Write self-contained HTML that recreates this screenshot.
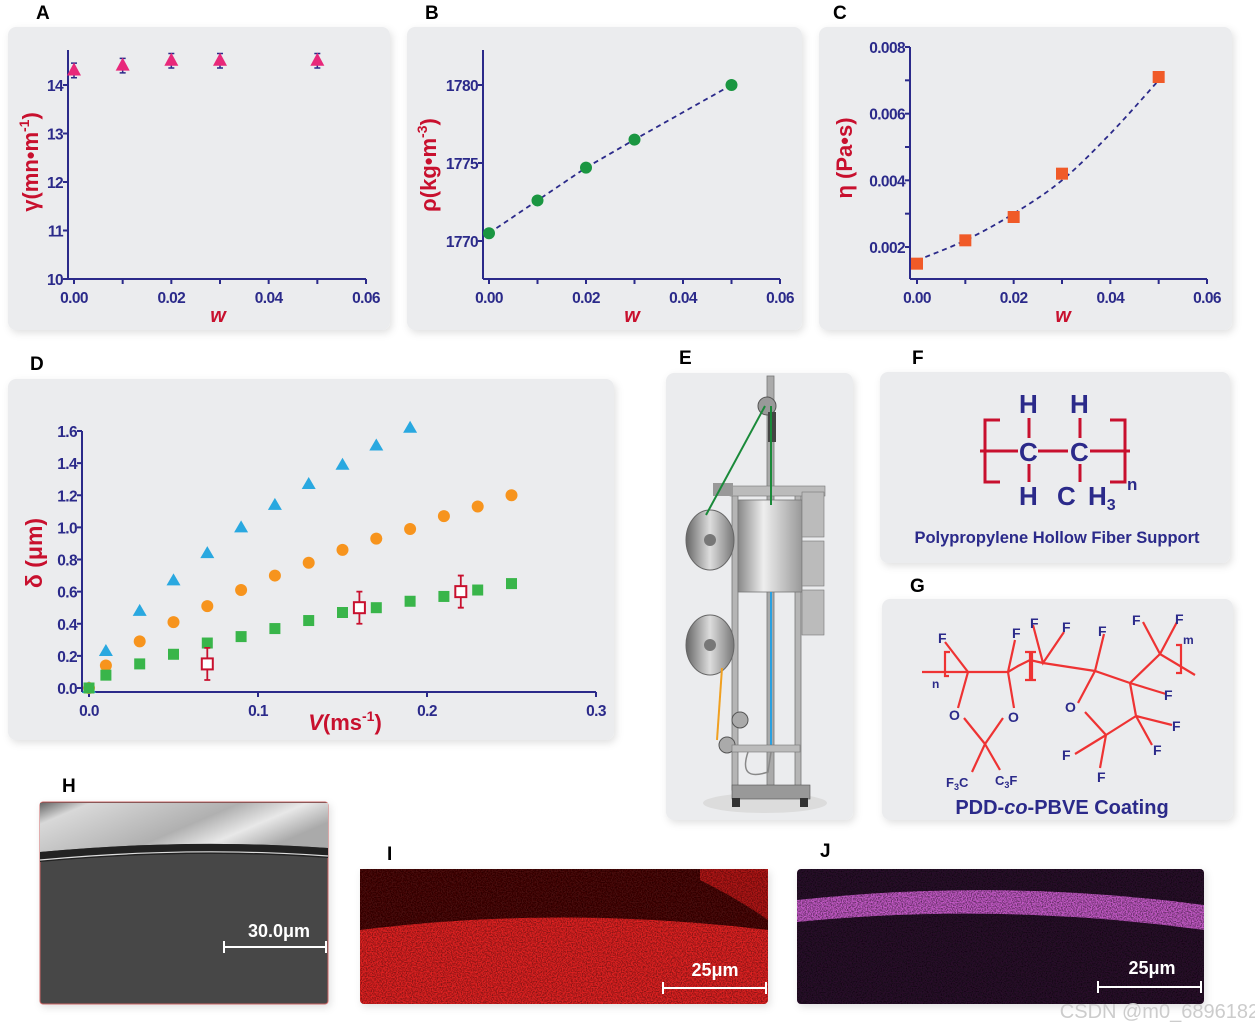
<!DOCTYPE html>
<html><head><meta charset="utf-8"><style>
html,body{margin:0;padding:0;background:#fff;}
svg{display:block;font-family:"Liberation Sans",sans-serif;}
.tk{font-weight:bold;fill:#2b2a8a;font-size:15.5px;letter-spacing:-0.6px;}
.lbl{font-weight:bold;fill:#c8102e;}
.pl{font-weight:bold;font-size:19px;fill:#000;}
</style></head><body>
<svg id="fig" width="1255" height="1033" viewBox="0 0 1255 1033">
<defs>
<filter id="sh" x="-10%" y="-10%" width="125%" height="125%"><feDropShadow dx="2" dy="3" stdDeviation="4" flood-color="#000" flood-opacity="0.12"/></filter>
<filter id="speck" x="0" y="0" width="100%" height="100%"><feTurbulence type="fractalNoise" baseFrequency="0.8" numOctaves="2" seed="3"/><feColorMatrix values="0 0 0 0 0  0 0 0 0 0  0 0 0 0 0  0 0 0 -2.5 1.6"/><feComposite in2="SourceGraphic" operator="in"/></filter>
<linearGradient id="drum" x1="0" y1="0" x2="1" y2="0"><stop offset="0" stop-color="#666"/><stop offset="0.5" stop-color="#ddd"/><stop offset="1" stop-color="#777"/></linearGradient>
<linearGradient id="box" x1="0" y1="0" x2="1" y2="0"><stop offset="0" stop-color="#888"/><stop offset="0.4" stop-color="#eee"/><stop offset="1" stop-color="#999"/></linearGradient>
<linearGradient id="semTop" x1="0" y1="0" x2="1" y2="0.4"><stop offset="0" stop-color="#666"/><stop offset="0.15" stop-color="#d8d8d8"/><stop offset="0.6" stop-color="#b0b0b0"/><stop offset="0.8" stop-color="#e8e8e8"/><stop offset="1" stop-color="#aaa"/></linearGradient>
</defs>

<rect x="8" y="27" width="382" height="303" rx="8" fill="#ebecee" filter="url(#sh)"/>
<rect x="407" y="27" width="395" height="303" rx="8" fill="#ebecee" filter="url(#sh)"/>
<rect x="819" y="27" width="413" height="303" rx="8" fill="#ebecee" filter="url(#sh)"/>
<rect x="8" y="379" width="606" height="361" rx="8" fill="#ebecee" filter="url(#sh)"/>
<rect x="666" y="373" width="187" height="447" rx="8" fill="#ebecee" filter="url(#sh)"/>
<rect x="880" y="372" width="350" height="191" rx="8" fill="#ebecee" filter="url(#sh)"/>
<rect x="882" y="599" width="351" height="221" rx="8" fill="#ebecee" filter="url(#sh)"/>

<text class="pl" x="36" y="19">A</text>
<text class="pl" x="425" y="19">B</text>
<text class="pl" x="833" y="19">C</text>
<text class="pl" x="30" y="370">D</text>
<text class="pl" x="679" y="364">E</text>
<text class="pl" x="912" y="364">F</text>
<text class="pl" x="910" y="592">G</text>
<text class="pl" x="62" y="792">H</text>
<text class="pl" x="387" y="860">I</text>
<text class="pl" x="820" y="857">J</text>

<g id="charts"></g>

<g>
<ellipse cx="765" cy="803" rx="62" ry="10" fill="#dcdcdc"/>
<rect x="767" y="376" width="7" height="420" fill="#aaa" stroke="#777" stroke-width="0.8"/>
<rect x="732" y="490" width="6" height="300" fill="#b5b5b5" stroke="#777" stroke-width="0.8"/>
<rect x="795" y="490" width="6" height="300" fill="#b5b5b5" stroke="#777" stroke-width="0.8"/>
<rect x="730" y="486" width="95" height="10" fill="#bbb" stroke="#777" stroke-width="0.6"/>
<rect x="738" y="500" width="64" height="92" fill="url(#box)" stroke="#777" stroke-width="0.8"/>
<rect x="802" y="492" width="22" height="45" fill="#bbb" stroke="#777" stroke-width="0.6"/>
<rect x="802" y="541" width="22" height="45" fill="#bbb" stroke="#777" stroke-width="0.6"/>
<rect x="802" y="590" width="22" height="45" fill="#bbb" stroke="#777" stroke-width="0.6"/>
<rect x="713" y="483" width="20" height="13" fill="#999"/>
<ellipse cx="710" cy="540" rx="24" ry="30" fill="url(#drum)" stroke="#666"/>
<ellipse cx="710" cy="645" rx="24" ry="30" fill="url(#drum)" stroke="#666"/>
<circle cx="710" cy="540" r="6" fill="#777"/><circle cx="710" cy="645" r="6" fill="#777"/>
<circle cx="767" cy="406" r="9" fill="#999" stroke="#555"/>
<rect x="768" y="412" width="8" height="30" fill="#444"/>
<line x1="765" y1="406" x2="706" y2="515" stroke="#1a8a3a" stroke-width="2"/>
<line x1="771" y1="406" x2="771" y2="505" stroke="#1a8a3a" stroke-width="2"/>
<line x1="771" y1="592" x2="771" y2="750" stroke="#2aa0e0" stroke-width="2"/>
<line x1="722" y1="668" x2="717" y2="740" stroke="#f0a020" stroke-width="2"/>
<circle cx="740" cy="720" r="8" fill="#aaa" stroke="#555"/>
<circle cx="727" cy="745" r="8" fill="#aaa" stroke="#555"/>
<rect x="732" y="745" width="68" height="7" fill="#bbb" stroke="#777" stroke-width="0.6"/>
<path d="M748 752 q-10 30 20 20 l3 -20" fill="none" stroke="#888" stroke-width="1.5"/>
<rect x="732" y="785" width="78" height="14" fill="#999" stroke="#555" stroke-width="0.6"/>
<rect x="732" y="798" width="8" height="9" fill="#333"/><rect x="800" y="798" width="8" height="9" fill="#333"/>
</g>

<g font-weight="bold" fill="#2b2a8a" font-size="26">
<path d="M1000 420 h-15 v62 h15 M1110 420 h15 v62 h-15" fill="none" stroke="#c8102e" stroke-width="3"/>
<line x1="980" y1="451" x2="1018" y2="451" stroke="#c8102e" stroke-width="3"/>
<line x1="1038" y1="451" x2="1068" y2="451" stroke="#c8102e" stroke-width="3"/>
<line x1="1090" y1="451" x2="1130" y2="451" stroke="#c8102e" stroke-width="3"/>
<line x1="1029" y1="418" x2="1029" y2="438" stroke="#c8102e" stroke-width="3"/>
<line x1="1080" y1="418" x2="1080" y2="438" stroke="#c8102e" stroke-width="3"/>
<line x1="1029" y1="464" x2="1029" y2="482" stroke="#c8102e" stroke-width="3"/>
<line x1="1080" y1="464" x2="1080" y2="482" stroke="#c8102e" stroke-width="3"/>
<text x="1019" y="413">H</text><text x="1070" y="413">H</text>
<text x="1019" y="461">C</text><text x="1070" y="461">C</text>
<text x="1019" y="505">H</text><text x="1057" y="505">C</text><text x="1088" y="505">H<tspan font-size="16" dy="5">3</tspan></text>
<text x="1127" y="490" font-size="17">n</text>
<text x="1057" y="543" font-size="16.5" text-anchor="middle">Polypropylene Hollow Fiber Support</text>
</g>

<g font-weight="bold" fill="#2b2a8a" font-size="14">
<g stroke="#ee3333" stroke-width="2.2" fill="none">
<path d="M922 672 L968 672 L1008 672 L1018 666 L1030 660 L1043 663 L1095 671 L1130 683 L1160 654 L1195 675"/>
<path d="M945 642 L968 672 L958 708 M1008 672 L1014 708 M964 718 L985 744 L1003 718 M985 744 L972 772 M985 744 L1000 770"/>
<path d="M1015 640 L1008 672 M1033 625 L1043 663 L1064 632 M1104 634 L1095 671 L1078 703 M1085 712 L1106 735 L1100 768 M1106 735 L1075 754 M1106 735 L1136 716 L1130 683 M1136 716 L1172 725 M1136 716 L1152 745 M1130 683 L1166 694 M1160 654 L1143 622 M1160 654 L1177 622"/>
<path d="M950 652 h-5 v24 h4 M1025 652 h5 v28 h-5 M1036 652 h-4 v28 h4 M1176 645 h5 v28 h-5"/>
</g>
<text x="938" y="643">F</text><text x="1012" y="638">F</text><text x="1030" y="628">F</text><text x="1062" y="632">F</text><text x="1098" y="636">F</text>
<text x="1132" y="625">F</text><text x="1175" y="624">F</text><text x="1183" y="644" font-size="12">m</text>
<text x="932" y="688" font-size="12">n</text>
<text x="949" y="720">O</text><text x="1008" y="722">O</text><text x="1065" y="712">O</text>
<text x="1164" y="700">F</text><text x="1172" y="731">F</text><text x="1153" y="755">F</text><text x="1062" y="760">F</text><text x="1097" y="782">F</text>
<text x="946" y="787" font-size="13">F<tspan font-size="9" dy="3">3</tspan><tspan dy="-3">C</tspan></text>
<text x="995" y="785" font-size="13">C<tspan font-size="9" dy="3">3</tspan><tspan dy="-3">F</tspan></text>
<text x="1062" y="814" font-size="20" text-anchor="middle">PDD-<tspan font-style="italic">co</tspan>-PBVE Coating</text>
</g>

<g filter="url(#sh)">
<rect x="40" y="802" width="288" height="202" rx="3" fill="#464646" stroke="#c66" stroke-width="1"/>
<path d="M40 803 H328 V848 Q190 838 40 852 Z" fill="url(#semTop)"/>
<path d="M40 852 Q190 838 328 848 V858 Q190 848 40 862 Z" fill="#222"/>
<path d="M40 860 Q190 846 328 856" stroke="#ddd" stroke-width="1.2" fill="none"/>
</g>
<g>
<text x="279" y="937" font-size="18" font-weight="bold" fill="#fff" text-anchor="middle">30.0μm</text>
<path d="M224 947 H326 M224 941 V953 M326 941 V953" stroke="#fff" stroke-width="2"/>
</g>

<g filter="url(#sh)">
<rect x="360" y="869" width="408" height="135" rx="4" fill="#e02222"/>
<path d="M360 869 H768 V930 Q560 905 360 930 Z" fill="#4a0808"/>
<path d="M700 869 H768 V920 Q740 900 700 880 Z" fill="#b01515"/>
<rect x="360" y="869" width="408" height="135" rx="4" fill="#000" filter="url(#speck)" opacity="0.45"/>
</g>
<g>
<text x="715" y="976" font-size="18" font-weight="bold" fill="#fff" text-anchor="middle">25μm</text>
<path d="M663 988 H766 M663 982 V994 M766 982 V994" stroke="#fff" stroke-width="2"/>
</g>

<g filter="url(#sh)">
<rect x="797" y="869" width="407" height="135" rx="4" fill="#2a0d2c"/>
<path d="M797 900 Q1000 878 1204 905 L1204 930 Q1000 902 797 922 Z" fill="#c55ac8"/>
<rect x="797" y="869" width="407" height="135" rx="4" fill="#000" filter="url(#speck)" opacity="0.55"/>
</g>
<g>
<text x="1152" y="974" font-size="18" font-weight="bold" fill="#fff" text-anchor="middle">25μm</text>
<path d="M1098 987 H1201 M1098 981 V993 M1201 981 V993" stroke="#fff" stroke-width="2"/>
</g>
<text x="1165" y="1018" font-size="20" fill="#ccc" text-anchor="middle">CSDN @m0_68961828</text>
</svg>

<script>
// Panel A data
const wA = [0, 0.01, 0.02, 0.03, 0.05];
const gammaA = [14.3, 14.4, 14.5, 14.5, 14.5];
const errA = [0.15, 0.15, 0.15, 0.15, 0.15];
const ticksA = [10, 11, 12, 13, 14];
// Panel B data
const wB = [0, 0.01, 0.02, 0.03, 0.05];
const rhoB = [1770.5, 1772.6, 1774.7, 1776.5, 1780];
const ticksB = [1770, 1775, 1780];
// Panel C data
const wC = [0, 0.01, 0.02, 0.03, 0.05];
const etaC = [0.0015, 0.0022, 0.0029, 0.0042, 0.0071];
const fitWC = [0, 0.01, 0.02, 0.03, 0.04, 0.05];
const fitEtaC = [0.0016, 0.0022, 0.003, 0.004, 0.0054, 0.007];
const ticksC = [0.002, 0.004, 0.006, 0.008];
const xTicksW = [0, 0.02, 0.04, 0.06];
const xTicksWLabels = ["0.00", "0.02", "0.04", "0.06"];
// Panel D data
const vTri = [0, 0.01, 0.03, 0.05, 0.07, 0.09, 0.11, 0.13, 0.15, 0.17, 0.19];
const dTri = [0, 0.23, 0.48, 0.67, 0.84, 1.0, 1.14, 1.27, 1.39, 1.51, 1.62];
const vCir = [0, 0.01, 0.03, 0.05, 0.07, 0.09, 0.11, 0.13, 0.15, 0.17, 0.19, 0.21, 0.23, 0.25];
const dCir = [0, 0.14, 0.29, 0.41, 0.51, 0.61, 0.70, 0.78, 0.86, 0.93, 0.99, 1.07, 1.13, 1.20];
const vSq = [0, 0.01, 0.03, 0.05, 0.07, 0.09, 0.11, 0.13, 0.15, 0.17, 0.19, 0.21, 0.23, 0.25];
const dSq = [0, 0.08, 0.15, 0.21, 0.28, 0.32, 0.37, 0.42, 0.47, 0.50, 0.54, 0.57, 0.61, 0.65];
const vExp = [0.07, 0.16, 0.22];
const dExp = [0.15, 0.50, 0.60];
const eExp = [0.10, 0.10, 0.10];
const ticksD = [0, 0.2, 0.4, 0.6, 0.8, 1.0, 1.2, 1.4, 1.6];
const xTicksD = [0, 0.1, 0.2, 0.3];

const NS = "http://www.w3.org/2000/svg";
const root = document.getElementById("charts");
function mk(tag, attrs, parent) {
  const e = document.createElementNS(NS, tag);
  for (const k in attrs) e.setAttribute(k, attrs[k]);
  (parent || root).appendChild(e);
  return e;
}
function lin(d0, d1, r0, r1) { return v => r0 + (v - d0) * (r1 - r0) / (d1 - d0); }
const NAVY = "#2b2a8a";

function axes(o) {
  const g = mk("g", {});
  
  
  mk("line", {x1: o.ax, y1: o.top, x2: o.ax, y2: o.ay, stroke: NAVY, "stroke-width": 2}, g);
  mk("line", {x1: o.ax, y1: o.ay, x2: o.xr, y2: o.ay, stroke: NAVY, "stroke-width": 2}, g);
  o.yt.forEach((t, i) => {
    const y = o.y(t);
    mk("line", {x1: o.ax - 5, y1: y, x2: o.ax, y2: y, stroke: NAVY, "stroke-width": 2}, g);
    const tx = mk("text", {x: o.ax - 5, y: y + 6, "text-anchor": "end", class: "tk"}, g);
    tx.textContent = o.ytl ? o.ytl[i] : t;
  });
  (o.ym || []).forEach(t => mk("line", {x1: o.ax - 5, y1: o.y(t), x2: o.ax, y2: o.y(t), stroke: NAVY, "stroke-width": 2}, g));
  o.xt.forEach((t, i) => {
    const x = o.x(t);
    mk("line", {x1: x, y1: o.ay, x2: x, y2: o.ay + 5, stroke: NAVY, "stroke-width": 2}, g);
    const tx = mk("text", {x: x, y: o.ay + 24, "text-anchor": "middle", class: "tk"}, g);
    tx.textContent = o.xtl[i];
  });
  (o.xm || []).forEach(t => mk("line", {x1: o.x(t), y1: o.ay, x2: o.x(t), y2: o.ay + 5, stroke: NAVY, "stroke-width": 2}, g));
  return g;
}

// ---------- Panel A ----------
{
  const x = lin(0, 0.06, 74, 366), y = lin(10, 14, 279, 85);
  axes({name: "panel-a", ax: 68, ay: 279, top: 50, xr: 366, x, y, yt: ticksA, xt: xTicksW, xtl: xTicksWLabels, xm: [0.01, 0.03, 0.05]});
  const t = mk("text", {x: 38, y: 162, class: "lbl", "font-size": 22, "text-anchor": "middle", transform: "rotate(-90 38 162)"});
  
  
  t.innerHTML = 'γ(mn•m<tspan font-size="14" dy="-9">-1</tspan><tspan dy="9">)</tspan>';
  const xl = mk("text", {x: 218, y: 322, class: "lbl", "font-size": 20, "font-style": "italic", "text-anchor": "middle"});
  
  
  xl.textContent = "w";
  wA.forEach((w, i) => {
    const cx = x(w), cy = y(gammaA[i]);
    const e = mk("path", {d: `M${cx} ${y(gammaA[i] + errA[i])}V${y(gammaA[i] - errA[i])}M${cx - 3} ${y(gammaA[i] + errA[i])}h6M${cx - 3} ${y(gammaA[i] - errA[i])}h6`, stroke: NAVY, "stroke-width": 1.5, fill: "none"});
    
    
    const p = mk("path", {d: `M${cx} ${cy - 8}L${cx + 7} ${cy + 5}L${cx - 7} ${cy + 5}Z`, fill: "#e8287a"});
    
    
  });
}

// ---------- Panel B ----------
{
  const x = lin(0, 0.06, 489, 780), y = lin(1770, 1780, 241, 85);
  axes({name: "panel-b", ax: 483, ay: 279, top: 50, xr: 780, x, y, yt: ticksB, xt: xTicksW, xtl: xTicksWLabels, xm: [0.01, 0.03, 0.05]});
  const t = mk("text", {x: 436, y: 165, class: "lbl", "font-size": 22, "text-anchor": "middle", transform: "rotate(-90 436 165)"});
  
  
  t.innerHTML = 'ρ(kg•m<tspan font-size="14" dy="-9">-3</tspan><tspan dy="9">)</tspan>';
  const xl = mk("text", {x: 632, y: 322, class: "lbl", "font-size": 20, "font-style": "italic", "text-anchor": "middle"});
  
  
  xl.textContent = "w";
  const ln = mk("polyline", {points: wB.map((w, i) => x(w) + "," + y(rhoB[i])).join(" "), fill: "none", stroke: NAVY, "stroke-width": 1.8, "stroke-dasharray": "5 4"});
  
  
  wB.forEach((w, i) => {
    const c = mk("circle", {cx: x(w), cy: y(rhoB[i]), r: 6, fill: "#1a9641"});
    
    
  });
}

// ---------- Panel C ----------
{
  const x = lin(0, 0.06, 917, 1207), y = lin(0.002, 0.008, 247, 47);
  axes({name: "panel-c", ax: 910, ay: 279, top: 47, xr: 1207, x, y, yt: ticksC, ytl: ["0.002", "0.004", "0.006", "0.008"], ym: [0.003, 0.005, 0.007], xt: xTicksW, xtl: xTicksWLabels, xm: [0.01, 0.03, 0.05]});
  const t = mk("text", {x: 852, y: 158, class: "lbl", "font-size": 22, "text-anchor": "middle", transform: "rotate(-90 852 158)"});
  
  
  t.textContent = "η (Pa•s)";
  const xl = mk("text", {x: 1063, y: 322, class: "lbl", "font-size": 20, "font-style": "italic", "text-anchor": "middle"});
  
  
  xl.textContent = "w";
  const pts = fitWC.map((w, i) => [x(w), y(fitEtaC[i])]);
  let d = "M" + pts[0][0] + " " + pts[0][1];
  for (let i = 0; i < pts.length - 1; i++) {
    const p0 = pts[i - 1] || pts[i], p1 = pts[i], p2 = pts[i + 1], p3 = pts[i + 2] || p2;
    d += ` C${p1[0] + (p2[0] - p0[0]) / 6} ${p1[1] + (p2[1] - p0[1]) / 6} ${p2[0] - (p3[0] - p1[0]) / 6} ${p2[1] - (p3[1] - p1[1]) / 6} ${p2[0]} ${p2[1]}`;
  }
  const cv = mk("path", {d, fill: "none", stroke: NAVY, "stroke-width": 1.8, "stroke-dasharray": "5 4"});
  
  
  wC.forEach((w, i) => {
    const r = mk("rect", {x: x(w) - 6, y: y(etaC[i]) - 6, width: 12, height: 12, fill: "#f05a28"});
    
    
  });
}

// ---------- Panel D ----------
{
  const x = lin(0, 0.3, 89, 596), y = lin(0, 1.6, 688, 431);
  axes({name: "panel-d", ax: 82, ay: 692, top: 431, xr: 596, x, y, yt: ticksD, ytl: ticksD.map(v => v.toFixed(1)), xt: xTicksD, xtl: ["0.0", "0.1", "0.2", "0.3"]});
  const t = mk("text", {x: 42, y: 553, class: "lbl", "font-size": 23, "text-anchor": "middle", transform: "rotate(-90 42 553)"});
  
  
  t.textContent = "δ (μm)";
  const xl = mk("text", {x: 345, y: 730, class: "lbl", "font-size": 22, "text-anchor": "middle"});
  
  
  xl.innerHTML = '<tspan font-style="italic">V</tspan>(ms<tspan font-size="14" dy="-9">-1</tspan><tspan dy="9">)</tspan>';
  vTri.forEach((v, i) => {
    const cx = x(v), cy = y(dTri[i]);
    const p = mk("path", {d: `M${cx} ${cy - 7}L${cx + 7} ${cy + 5}L${cx - 7} ${cy + 5}Z`, fill: "#29a8e0"});
    
    
  });
  vCir.forEach((v, i) => {
    const c = mk("circle", {cx: x(v), cy: y(dCir[i]), r: 6, fill: "#f7941d"});
    
    
  });
  vSq.forEach((v, i) => {
    const r = mk("rect", {x: x(v) - 5.5, y: y(dSq[i]) - 5.5, width: 11, height: 11, fill: "#39b54a"});
    
    
  });
  vExp.forEach((v, i) => {
    const cx = x(v), cy = y(dExp[i]), t1 = y(dExp[i] + eExp[i]), t2 = y(dExp[i] - eExp[i]);
    const e = mk("path", {d: `M${cx} ${t1}V${t2}M${cx - 3} ${t1}h6M${cx - 3} ${t2}h6`, stroke: "#c8102e", "stroke-width": 1.8, fill: "none"});
    
    
    const r = mk("rect", {x: cx - 5.5, y: cy - 5.5, width: 11, height: 11, fill: "#fff", stroke: "#c8102e", "stroke-width": 2});
    
    
  });
}
</script>
</body></html>
